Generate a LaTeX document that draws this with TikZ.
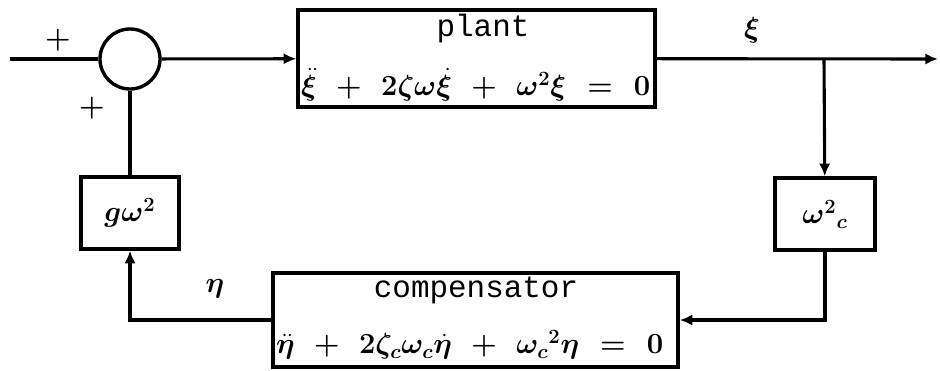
\documentclass[tikz,border=0pt]{standalone}
\usepackage{amsmath,amssymb,bm}
\usepackage{fontspec}
\setmonofont{Liberation Mono}
\usetikzlibrary{arrows.meta,positioning}

\tikzset{
  block/.style={draw, line width=2.4pt, inner sep=0pt},
  sig/.style={line width=2.2pt},
  sigarrow/.style={sig, -{Latex[length=9pt,width=8pt]}},
}

\begin{document}
\begin{tikzpicture}[x=0.025cm,y=-0.025cm,font=\fontsize{22}{26}\selectfont]
    \useasboundingbox (0,0) rectangle (940,370);
    \coordinate (in) at (10,59);
    \coordinate (out) at (938,59);
    \coordinate (tap) at (824,59);
    \node[block, circle, minimum size=1.5cm] (sum) at (130,59) {};
    \node[block, minimum width=8.925cm, minimum height=2.425cm] (plant) at (476.5,58.5) {};
    \node[block, minimum width=10.125cm, minimum height=2.35cm] (comp) at (475.5,320) {};
    \node[block, minimum width=2.45cm, minimum height=1.8cm] (gain) at (130,213) {$\bm{g\omega}^{\bm{2}}$};
    \node[block, minimum width=2.5cm, minimum height=1.8cm] (wc) at (825,214) {$\bm{\omega}^{\bm{2}}{}_{\bm{c}}$};
    \node (plantname) at (483,28) {\ttfamily plant};
    \node[anchor=west, inner sep=2pt] (planteq) at (298,85)
        {$\bm{\ddot{\xi}\;\,+\;\,2\zeta\omega\dot{\xi}\;\,+\;\,\omega^{2}\xi\;\,=\;\,0}$};
    \node (compname) at (476,290) {\ttfamily compensator};
    \node[anchor=west, inner sep=2pt] (compeq) at (273,345)
        {$\bm{\ddot{\eta}\;\,+\;\,2\zeta_{c}\omega_{c}\dot{\eta}\;\,+\;\,\omega_{c}{}^{2}\eta\;\,=\;\,0}$};
    \node (plusin) at (58,40) {$\bm{+}$};
    \node (plusfb) at (92,108) {$\bm{+}$};
    \node (xi) at (752,30) {$\bm{\xi}$};
    \node (eta) at (215,289) {$\bm{\eta}$};
    \draw[sig] (in) -- (sum);
    \draw[sigarrow] (sum) -- (plant);
    \draw[sigarrow] (plant) -- (out);
    \draw[sigarrow] (tap) -- (wc);
    \draw[sigarrow] (wc) |- (comp);
    \draw[sigarrow] (comp) -| (gain);
    \draw[sig] (gain) -- (sum);
\end{tikzpicture}
\end{document}
